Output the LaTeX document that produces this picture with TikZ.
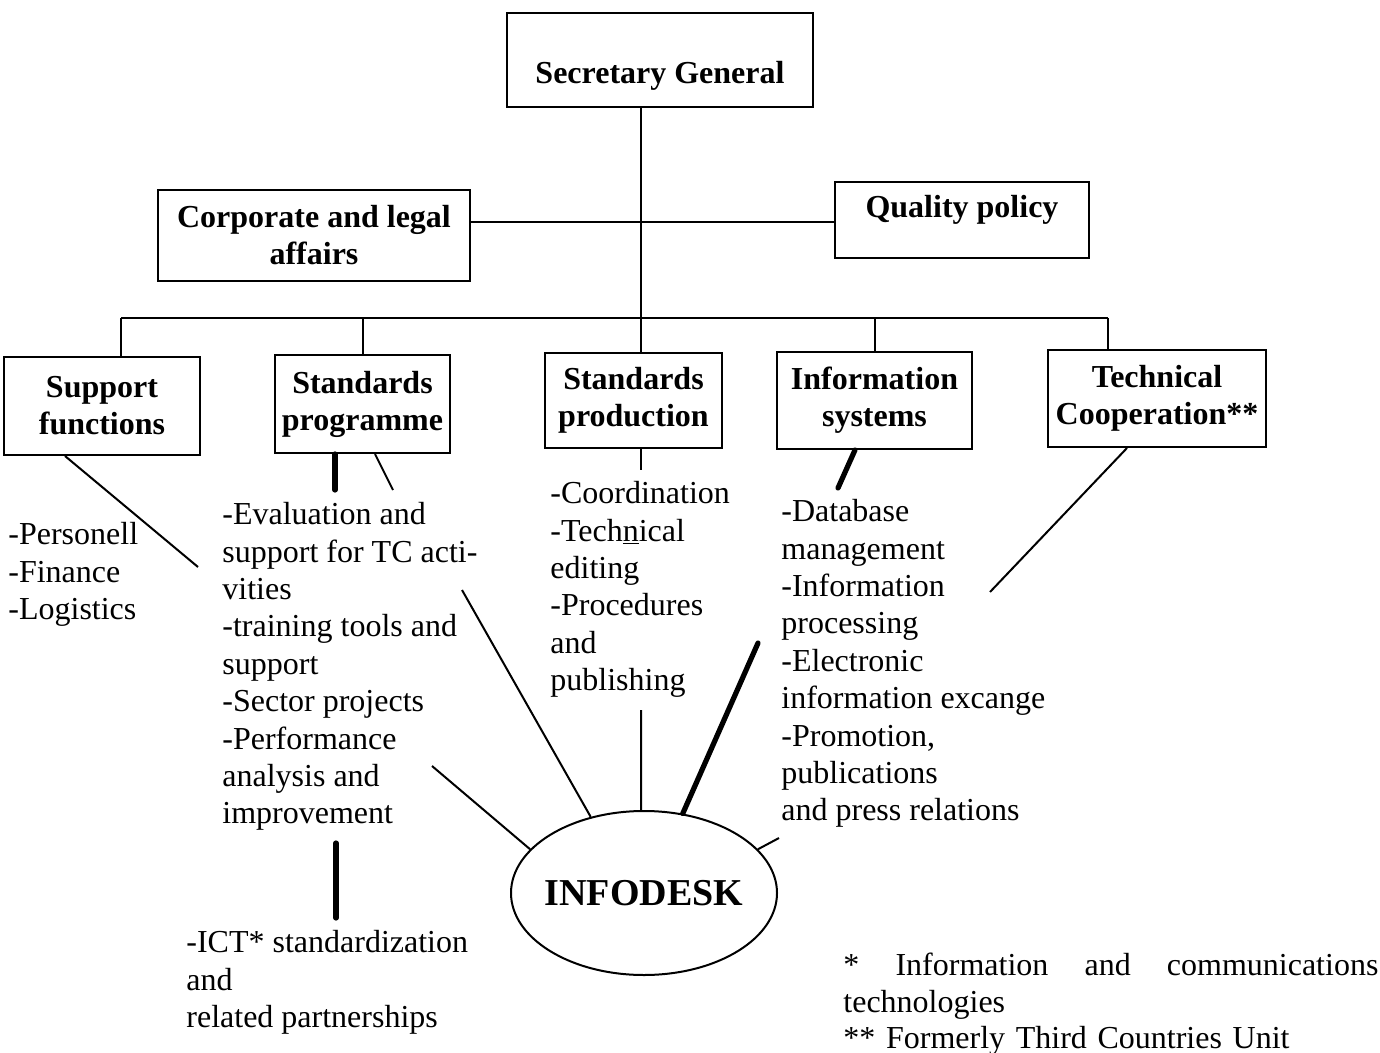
\documentclass[tikz,border=0pt]{standalone}
\usepackage{fontspec}
\setmainfont{Liberation Serif}
\usetikzlibrary{positioning}
\usetikzlibrary{shapes.geometric}
\tikzset{
	every node/.style = {font=\fontsize{16}{18.7}\selectfont, inner sep=0pt},
	unitbox/.style = {draw, line width=1pt, align=center, font=\fontsize{16}{18.5}\selectfont\bfseries},
	tasklist/.style = {anchor=north west, align=left},
	link/.style = {line width=1pt},
	boldlink/.style = {line width=2.6pt, line cap=round}
}

\begin{document}
\begin{tikzpicture}[x=0.5pt, y=-0.5pt]
		\useasboundingbox (0,0) rectangle (1380,1053);
		% top level
		\node[unitbox, minimum width=153pt, minimum height=47pt, text height=35.5pt, text depth=11.5pt] (sg) at (660,60) {Secretary General};
		\node[unitbox, minimum width=156pt, minimum height=45.5pt] (corp) at (314,235.5) {Corporate and legal\\affairs};
		\node[unitbox, minimum width=127pt, minimum height=38pt, text height=18pt, text depth=20pt] (qual) at (962,220) {Quality policy};
		% departments
		\node[unitbox, minimum width=98pt, minimum height=49pt] (supp) at (102,406) {Support\\functions};
		\node[unitbox, minimum width=87.5pt, minimum height=49pt] (prog) at (362.5,404) {Standards\\programme};
		\node[unitbox, minimum width=88.5pt, minimum height=47pt] (prod) at (633.5,400.5) {Standards\\production};
		\node[unitbox, minimum width=97.5pt, minimum height=48.5pt] (isys) at (874.5,400.5) {Information\\systems};
		\node[unitbox, minimum width=109pt, minimum height=48.5pt] (tech) at (1157,398.5) {Technical\\Cooperation**};
		
		% tree lines
		\coordinate (junc) at (641,222);
		\coordinate (bus) at (641,318);
		\coordinate (busL) at (121,318);
		\coordinate (busR) at (1108,318);
		\draw[link] (sg.south -| bus) -- (bus);
		\draw[link] (corp.east |- junc) -- (qual.west |- junc);
		\draw[link] (busL) -- (busR);
		\draw[link] (busL) -- (busL |- supp.north);
		\draw[link] (bus) -- (bus |- prod.north);
		\draw[link] (busR) -- (busR |- tech.north);
		\foreach \n in {prog, isys}
			\draw[link] (\n.north |- bus) -- (\n.north);
		
		% tasks
		\node[tasklist] (supptxt) at (8,522) {-Personell\\-Finance\\-Logistics};
		\node[tasklist] (progtxt) at (222,502) {-Evaluation and\\support for TC acti-\\vities\\-training tools and\\support\\-Sector projects\\-Performance\\analysis and\\improvement};
		\node[tasklist] (prodtxt) at (550,481) {-Coordination\\-Tech\underline{n}ical\\editing\\-Procedures\\and\\publishing};
		\node[tasklist] (isystxt) at (781,499) {-Database\\management\\-Information\\processing\\-Electronic\\information excange\\-Promotion,\\publications\\and press relations};
		\node[tasklist] (icttxt) at (186,930) {-ICT* standardization\\and\\related partnerships};
		\node[tasklist, text width=267.5pt, font=\fontsize{16}{18.2}\selectfont] (notes) at (843,953) {*\hfill Information\hfill and\hfill communications\\technologies\\{**} Formerly Third Countries Unit};
		
		\coordinate (suppend) at (198,567);
		\coordinate (progA) at (335,490);
		\coordinate (progB) at (393,490);
		\coordinate (prodA) at (641,470);
		\coordinate (isysA) at (838,488);
		\coordinate (techA) at (990,592);
		\draw[link] ([xshift=-18.5pt]supp.south) -- (suppend);
		\draw[boldlink] ([xshift=-13.75pt]prog.south) -- (progA);
		\draw[link] ([xshift=6.25pt]prog.south) -- (progB);
		\draw[link] (bus |- prod.south) -- (prodA);
		\draw[boldlink] ([xshift=-9.75pt]isys.south) -- (isysA);
		\draw[link] ([xshift=-15pt]tech.south) -- (techA);
		
		\coordinate (ictT) at (336,843);
		\coordinate (ictB) at (336,918);
		\draw[boldlink] (ictT) -- (ictB);
		
		% infodesk
		\node[ellipse, draw, line width=1pt, minimum width=133pt, minimum height=82pt, font=\fontsize{19}{22}\selectfont\bfseries] (info) at (644,893) {\makebox[0pt]{INFODESK}};
		\coordinate (fromperf) at (432,766);
		\coordinate (fromeval) at (462,590);
		\coordinate (frompub) at (641,710);
		\coordinate (fromesys) at (758,643);
		\coordinate (stubend) at (779,838);
		\draw[link] (fromperf) -- (info.159.5);
		\draw[link] (fromeval) -- (info.125);
		\draw[link] (frompub) -- (info.92);
		\draw[boldlink] (fromesys) -- (info.64);
		\draw[link] (info.21.5) -- (stubend);
	\end{tikzpicture}
\end{document}
